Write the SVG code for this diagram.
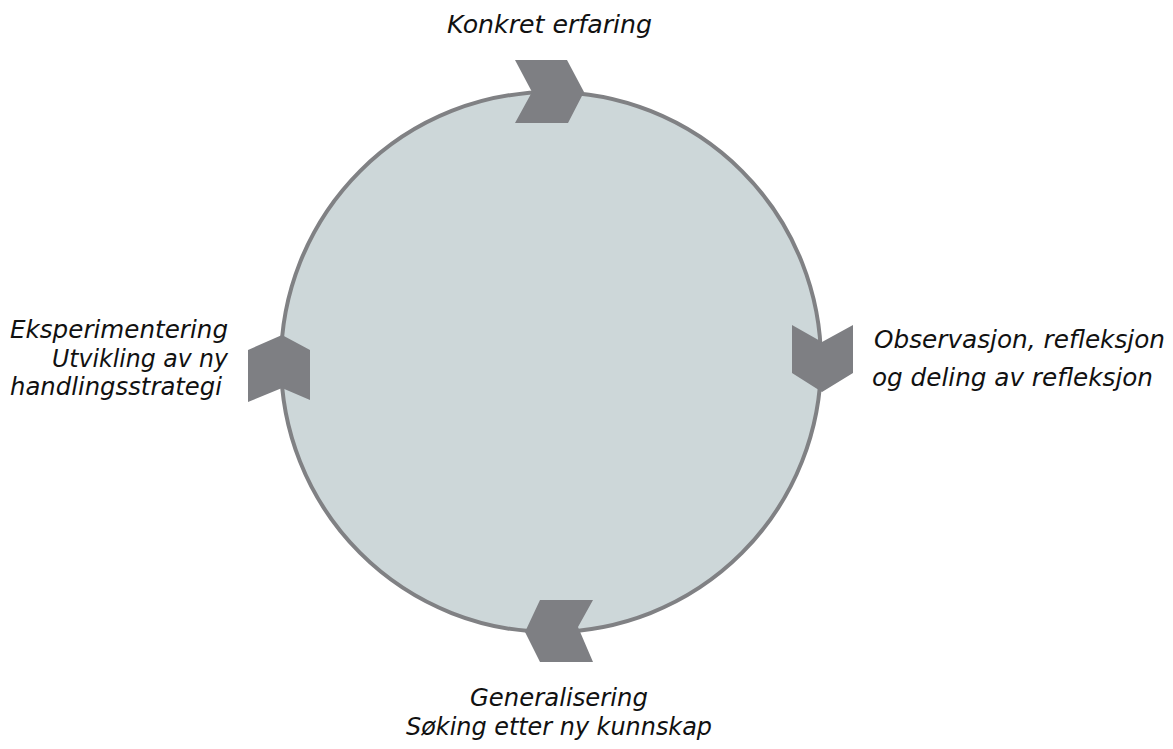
<svg xmlns="http://www.w3.org/2000/svg" width="1173" height="749" viewBox="0 0 1173 749">
  <style>
    .ring { fill: #cdd7d9; stroke: #808184; stroke-width: 4; }
    .chev { fill: #7e7f83; }
    .lbl { font-family: "DejaVu Sans", "Liberation Sans", sans-serif; font-style: italic; font-size: 24.5px; fill: #111111; }
  </style>
  <rect width="1173" height="749" fill="#ffffff"/>

  <!-- cycle ring -->
  <g id="cycle">
    <circle class="ring" cx="551" cy="362" r="270"/>
  </g>

  <!-- direction chevrons placed on the ring -->
  <g id="connectors">
    <polygon class="chev" points="515,60 567,60 584,92 568,123 515,123 532,92"/>
    <polygon class="chev" points="792,325 822,342 853,325 853,373 822,392 792,373"/>
    <polygon class="chev" points="540,600 593,600 578,627 593,662 540,662 525,632"/>
    <polygon class="chev" points="282,335 310,350 310,400 282,388 248,402 248,350"/>
  </g>

  <g id="stage-experience">
    <text class="lbl" x="447" y="33" textLength="205" lengthAdjust="spacingAndGlyphs">Konkret erfaring</text>
  </g>

  <g id="stage-reflection">
    <text class="lbl" x="874" y="348" textLength="291" lengthAdjust="spacingAndGlyphs">Observasjon, refleksjon</text>
    <text class="lbl" x="872" y="386" textLength="281" lengthAdjust="spacingAndGlyphs">og deling av refleksjon</text>
  </g>

  <g id="stage-generalisation">
    <text class="lbl" x="470" y="706" textLength="178" lengthAdjust="spacingAndGlyphs">Generalisering</text>
    <text class="lbl" x="406" y="735" textLength="306" lengthAdjust="spacingAndGlyphs">Søking etter ny kunnskap</text>
  </g>

  <g id="stage-experimentation">
    <text class="lbl" x="10" y="338" textLength="218" lengthAdjust="spacingAndGlyphs">Eksperimentering</text>
    <text class="lbl" x="52" y="367" textLength="176" lengthAdjust="spacingAndGlyphs">Utvikling av ny</text>
    <text class="lbl" x="10" y="395" textLength="212" lengthAdjust="spacingAndGlyphs">handlingsstrategi</text>
  </g>
</svg>
